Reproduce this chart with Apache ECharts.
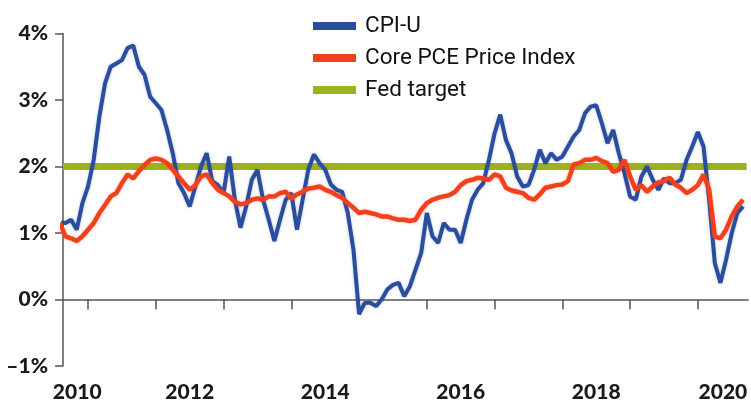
<!DOCTYPE html>
<html>
<head>
<meta charset="utf-8">
<script src="https://cdn.jsdelivr.net/npm/echarts@6/dist/echarts.min.js"></script>
<style>
html,body{margin:0;padding:0;background:#fff;}
#c{width:751px;height:405px;}
</style>
</head>
<body>
<div id="c"></div>
<script>
// Monthly series, August 2010 through September 2020 (year-over-year %)
const startYear = 2010, startMonth = 8;
const cpiU = [
  1.15,1.15,1.2,1.05,1.45,
  1.7,2.1,2.75,3.25,3.5,3.55,3.6,3.78,3.82,3.5,3.38,3.05,
  2.95,2.85,2.55,2.2,1.75,1.6,1.4,1.7,2.0,2.2,1.78,1.72,
  1.6,2.15,1.5,1.08,1.4,1.8,1.95,1.5,1.2,0.88,1.2,1.5,
  1.6,1.05,1.5,1.95,2.18,2.05,1.95,1.73,1.65,1.62,1.3,0.75,
  -0.22,-0.05,-0.05,-0.1,0.0,0.15,0.22,0.25,0.05,0.2,0.45,0.7,
  1.3,0.95,0.85,1.15,1.05,1.05,0.85,1.2,1.5,1.65,1.75,2.1,
  2.5,2.78,2.4,2.2,1.85,1.7,1.72,1.95,2.25,2.05,2.2,2.1,
  2.15,2.3,2.45,2.55,2.8,2.9,2.92,2.65,2.35,2.55,2.2,1.9,
  1.55,1.5,1.85,2.0,1.8,1.65,1.82,1.75,1.75,1.8,2.1,2.3,
  2.52,2.3,1.5,0.55,0.25,0.6,1.0,1.3,1.4
];
const corePCE = [
  1.15,0.95,0.92,0.88,0.95,
  1.05,1.15,1.3,1.42,1.55,1.6,1.75,1.88,1.82,1.93,2.02,2.1,
  2.12,2.1,2.05,1.95,1.85,1.75,1.65,1.72,1.85,1.88,1.75,1.65,
  1.6,1.55,1.47,1.43,1.45,1.5,1.52,1.5,1.55,1.55,1.6,1.62,
  1.52,1.58,1.62,1.67,1.68,1.7,1.65,1.62,1.57,1.53,1.45,1.38,
  1.3,1.32,1.3,1.28,1.25,1.25,1.22,1.2,1.2,1.18,1.2,1.35,
  1.45,1.5,1.53,1.55,1.57,1.62,1.72,1.78,1.8,1.83,1.82,1.8,
  1.88,1.85,1.68,1.64,1.62,1.6,1.53,1.5,1.58,1.68,1.7,1.72,
  1.73,1.78,2.03,2.05,2.1,2.1,2.13,2.08,2.05,1.92,1.95,2.1,
  1.85,1.65,1.72,1.62,1.7,1.76,1.78,1.83,1.73,1.68,1.6,1.65,
  1.72,1.88,1.65,0.95,0.92,1.05,1.25,1.4,1.5
];
const fedTarget = 2;
const seriesNames = ['CPI-U','Core PCE Price Index','Fed target'];
const yearLabels = [2010,2012,2014,2016,2018,2020];

const xMin = 2010.63, xMax = 2020.74;
const toX = i => startYear + (startMonth - 1 + i) / 12;
const cpiData = cpiU.map((v,i) => [toX(i), v]);
const pceData = corePCE.map((v,i) => [toX(i), v]);
const tickVals = [];
for (let y = 2011; y <= 2020; y++) tickVals.push(y);
const labelPos = yearLabels.map(y => Math.max(xMin + 0.21, Math.min(xMax - 0.37, y + 0.5)));

const axisFont = 'Lato';
const legendFont = 'Roboto';
const chart = echarts.init(document.getElementById('c'));
chart.setOption({
  animation: false,
  backgroundColor: '#fff',
  grid: {left: 63, right: 3, top: 33.5, bottom: 39, containLabel: false},
  legend: {
    orient: 'vertical', left: 308, top: 9,
    itemWidth: 43, itemHeight: 8, itemGap: 8,
    icon: 'rect',
    textStyle: {fontFamily: legendFont, fontSize: 22.5, lineHeight: 24, color: '#111', padding: [0,0,0,4]},
    data: seriesNames
  },
  xAxis: {
    type: 'value', min: xMin, max: xMax,
    splitLine: {show: false},
    axisLine: {lineStyle: {color: '#555', width: 1.5}},
    axisTick: {show: true, length: 10, lineStyle: {color: '#555', width: 1.5}, customValues: tickVals},
    axisLabel: {
      customValues: labelPos, margin: 16,
      fontFamily: axisFont, fontSize: 21, fontWeight: 900, color: '#1a1a1a',
      formatter: v => String(Math.floor(v))
    }
  },
  yAxis: {
    type: 'value', min: -1, max: 4, interval: 1,
    splitLine: {show: false},
    axisLine: {show: true, lineStyle: {color: '#555', width: 1.5}},
    axisTick: {show: true, length: 8, lineStyle: {color: '#555', width: 1.5}},
    axisLabel: {
      margin: 15, fontFamily: axisFont, fontSize: 21, fontWeight: 900, color: '#1a1a1a',
      formatter: v => (v < 0 ? '\u2013' + Math.abs(v) : v) + '%'
    }
  },
  series: [
    {
      name: 'Fed target', type: 'line', showSymbol: false, z: 1,
      lineStyle: {color: '#9db21e', width: 7},
      itemStyle: {color: '#9db21e'},
      data: [[xMin, fedTarget], [xMax - 0.02, fedTarget]]
    },
    {
      name: 'CPI-U', type: 'line', showSymbol: false, z: 2,
      lineStyle: {color: '#2a4d9e', width: 4, shadowColor: 'rgba(42,77,158,0.35)', shadowBlur: 3},
      itemStyle: {color: '#2a4d9e'},
      data: cpiData
    },
    {
      name: 'Core PCE Price Index', type: 'line', showSymbol: false, z: 3,
      lineStyle: {color: '#f2401c', width: 4.5, shadowColor: 'rgba(242,64,28,0.35)', shadowBlur: 3},
      itemStyle: {color: '#f2401c'},
      data: pceData
    }
  ]
});
</script>
</body>
</html>
